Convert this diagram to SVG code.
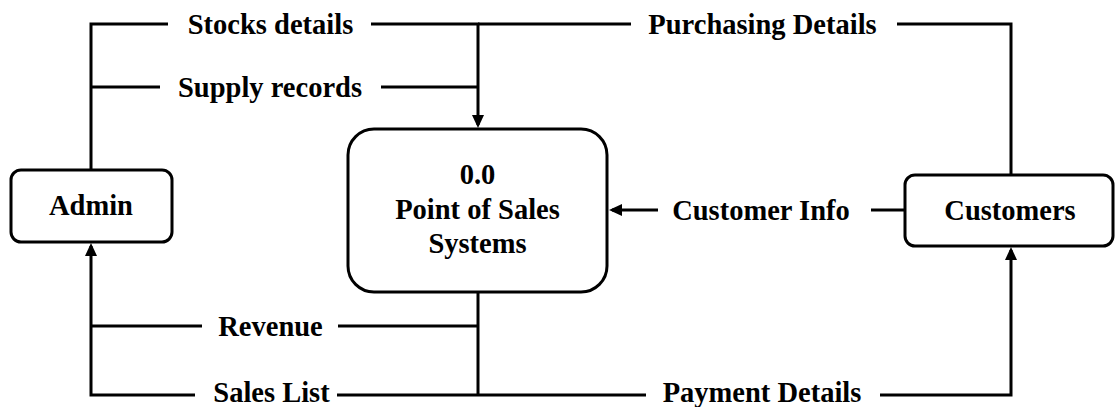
<svg xmlns="http://www.w3.org/2000/svg" width="1115" height="407" viewBox="0 0 1115 407">
  <style>
    .box { fill: #ffffff; stroke: #000000; stroke-width: 3; }
    .flow { fill: none; stroke: #000000; stroke-width: 3; stroke-linejoin: miter; }
    .lbl { font-family: "Liberation Serif", "Times New Roman", serif; font-weight: bold; font-size: 28.5px; fill: #000000; text-anchor: middle; }
  </style>
  <defs>
    <marker id="arrow" markerUnits="userSpaceOnUse" markerWidth="14" markerHeight="13" refX="10" refY="6.5" orient="auto">
      <path d="M0,0.5 L13,6.5 L0,12.5 z" fill="#000000"/>
    </marker>
  </defs>

  <rect width="1115" height="407" fill="#ffffff"/>

  <!-- data flows -->
  <g id="connectors">
    <!-- Admin -> POS: stocks details -->
    <path class="flow" d="M91,170 V24 H168"/>
    <path class="flow" d="M371,24 H478 V125" marker-end="url(#arrow)"/>
    <!-- Admin -> POS: supply records -->
    <path class="flow" d="M91,87 H160"/>
    <path class="flow" d="M381,87 H478"/>
    <!-- Customers -> POS: purchasing details -->
    <path class="flow" d="M1011,175 V24 H897"/>
    <path class="flow" d="M631,24 H478"/>
    <!-- Customers -> POS: customer info -->
    <path class="flow" d="M905,210 H871"/>
    <path class="flow" d="M658,210 H612" marker-end="url(#arrow)"/>
    <!-- POS -> Admin: revenue -->
    <path class="flow" d="M478,293 V395"/>
    <path class="flow" d="M478,326 H338"/>
    <path class="flow" d="M202,326 H91"/>
    <!-- POS -> Admin: sales list -->
    <path class="flow" d="M478,395 H337"/>
    <path class="flow" d="M195,395 H91 V246" marker-end="url(#arrow)"/>
    <!-- POS -> Customers: payment details -->
    <path class="flow" d="M478,395 H646"/>
    <path class="flow" d="M880,395 H1011 V250" marker-end="url(#arrow)"/>

    <text class="lbl" x="270.5" y="34">Stocks details</text>
    <text class="lbl" x="270" y="97">Supply records</text>
    <text class="lbl" x="762.5" y="34">Purchasing Details</text>
    <text class="lbl" x="761" y="220">Customer Info</text>
    <text class="lbl" x="270.5" y="336">Revenue</text>
    <text class="lbl" x="271.5" y="402">Sales List</text>
    <text class="lbl" x="762" y="402">Payment Details</text>
  </g>

  <g id="admin">
    <rect class="box" x="11" y="170" width="161" height="72" rx="10"/>
    <text class="lbl" x="91" y="215">Admin</text>
  </g>

  <g id="pos">
    <rect class="box" x="348" y="129" width="259" height="163" rx="26"/>
    <text class="lbl" x="477.5" y="184">0.0</text>
    <text class="lbl" x="477.5" y="219">Point of Sales</text>
    <text class="lbl" x="477.5" y="253">Systems</text>
  </g>

  <g id="customers">
    <rect class="box" x="905" y="175" width="208" height="71" rx="10"/>
    <text class="lbl" x="1010" y="220">Customers</text>
  </g>
</svg>
